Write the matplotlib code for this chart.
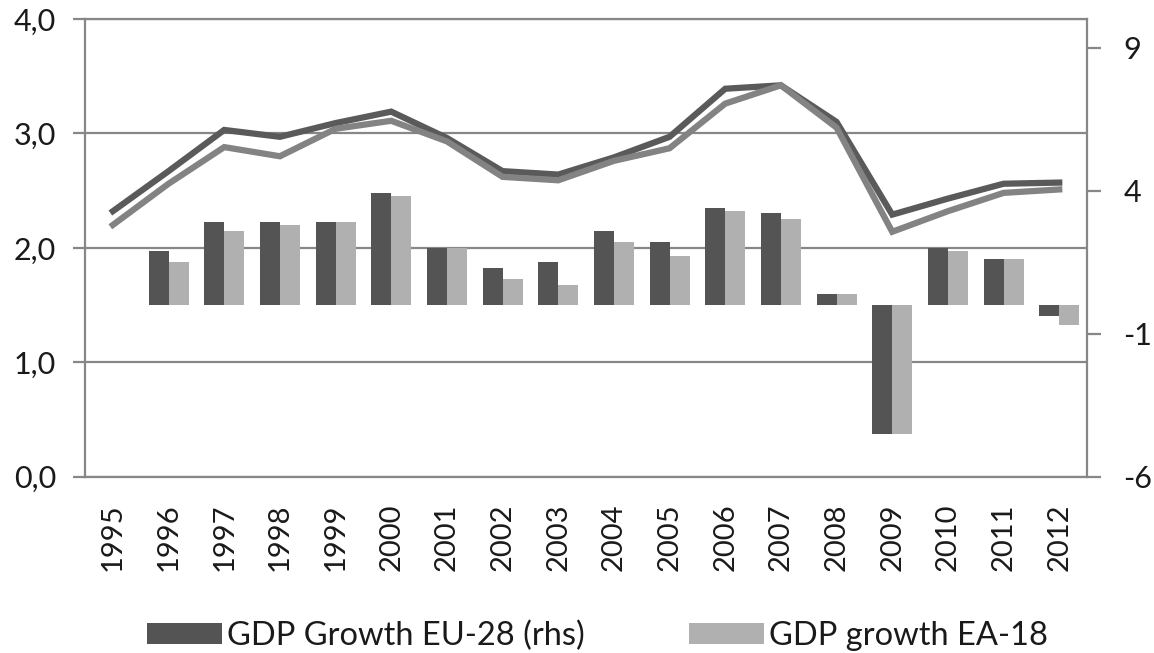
import numpy as np
import matplotlib.pyplot as plt

plt.rcParams['font.family'] = ['Lato', 'DejaVu Sans']
plt.rcParams['axes.unicode_minus'] = False

# dados
years = ['1995', '1996', '1997', '1998', '1999', '2000', '2001', '2002', '2003',
         '2004', '2005', '2006', '2007', '2008', '2009', '2010', '2011', '2012']

# barras (eixo da direita)
gdp_eu28 = [np.nan, 1.9, 2.9, 2.9, 2.9, 3.9, 2.0, 1.3, 1.5, 2.6, 2.2, 3.4, 3.2, 0.4, -4.5, 2.0, 1.6, -0.4]
gdp_ea18 = [np.nan, 1.5, 2.6, 2.8, 2.9, 3.8, 2.0, 0.9, 0.7, 2.2, 1.7, 3.3, 3.0, 0.4, -4.5, 1.9, 1.6, -0.7]

# linhas (eixo da esquerda)
line_eu28 = [2.32, 2.67, 3.03, 2.97, 3.09, 3.19, 2.96, 2.67, 2.64, 2.79, 2.97, 3.39, 3.42, 3.10, 2.29, 2.43, 2.56, 2.57]
line_ea18 = [2.20, 2.56, 2.88, 2.80, 3.04, 3.11, 2.93, 2.62, 2.59, 2.76, 2.87, 3.26, 3.42, 3.05, 2.14, 2.32, 2.48, 2.51]

left_ticks = [0, 1, 2, 3, 4]
left_labels = ['0,0', '1,0', '2,0', '3,0', '4,0']
right_ticks = [-6, -1, 4, 9]

grid_col = '#878787'
txt_col = '#1a1a1a'

fig = plt.figure(figsize=(11.54, 6.53), dpi=100)
ax = fig.add_axes([0.0737, 0.270, 0.8683, 0.701])
x = np.arange(len(years))

# eixo da esquerda: grade e rotulos
ax.set_xlim(-0.5, len(years) - 0.5)
ax.set_ylim(0, 4)
ax.set_yticks(left_ticks)
ax.set_yticklabels(left_labels)
ax.grid(axis='y', color=grid_col, linewidth=1.6)
ax.set_axisbelow(True)
ax.tick_params(axis='y', length=9, width=1.6, color=grid_col, pad=12, labelsize=22, labelcolor=txt_col)
ax.set_xticks(x)
ax.set_xticklabels(years, rotation=90)
ax.tick_params(axis='x', length=0, pad=19, labelsize=21, labelcolor=txt_col)
for s in ['left', 'bottom', 'top']:
    ax.spines[s].set_color(grid_col)
    ax.spines[s].set_linewidth(1.6)
ax.spines['right'].set_visible(False)

# barras no eixo da direita
ax2 = ax.twinx()
w = 0.36
b1 = ax2.bar(x - w / 2, gdp_eu28, width=w, color='#545454', label='GDP Growth EU-28 (rhs)')
b2 = ax2.bar(x + w / 2, gdp_ea18, width=w, color='#b0b0b0', label='GDP growth EA-18')
ax2.set_ylim(-6, 10)
ax2.set_yticks(right_ticks)
ax2.tick_params(axis='y', length=10, width=1.6, color=grid_col, pad=16, labelsize=22, labelcolor=txt_col)
for s in ['left', 'bottom', 'top']:
    ax2.spines[s].set_visible(False)
ax2.spines['right'].set_color(grid_col)
ax2.spines['right'].set_linewidth(1.6)

# linhas por cima das barras
ax3 = ax.twinx()
ax3.set_ylim(0, 4)
ax3.plot(x, line_eu28, color='#5a5a5a', linewidth=4.5, solid_joinstyle='miter')
ax3.plot(x, line_ea18, color='#838383', linewidth=4.5, solid_joinstyle='miter')
ax3.axis('off')

fig.legend(handles=[b1, b2], loc='center', bbox_to_anchor=(0.518, 0.026), ncol=2,
           frameon=False, fontsize=23.5, handlelength=2.3, handleheight=0.6,
           handletextpad=0.15, columnspacing=3.2, labelcolor=txt_col)

fig.savefig('out.png', dpi=100)
